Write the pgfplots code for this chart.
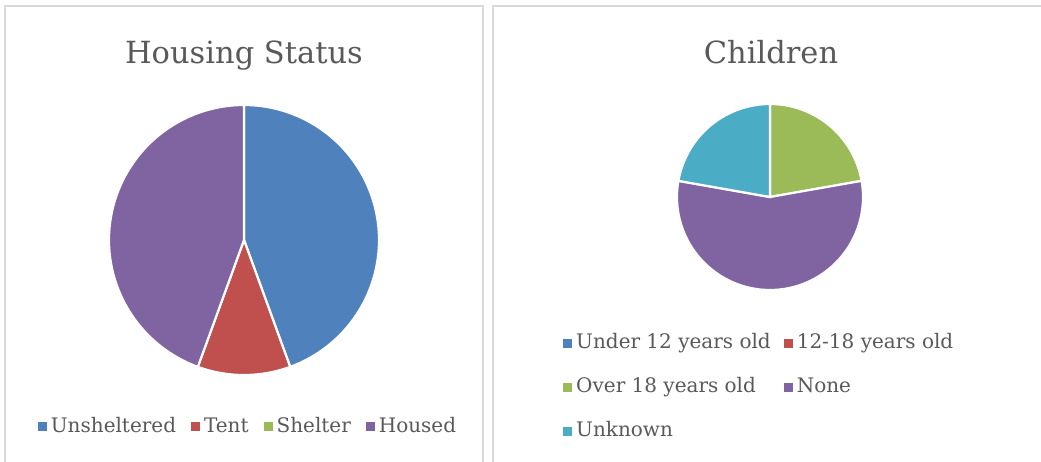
\documentclass[border=0pt]{standalone}
\usepackage{pgfplots}
\pgfplotsset{compat=1.18}
\usepackage{fontspec}
\setmainfont{DejaVu Serif}
\definecolor{cBlue}{HTML}{4F81BD}
\definecolor{cRed}{HTML}{C0504D}
\definecolor{cGreen}{HTML}{9BBB59}
\definecolor{cPurple}{HTML}{8064A2}
\definecolor{cAqua}{HTML}{4BACC6}
\definecolor{cText}{HTML}{595959}
\definecolor{cBorder}{HTML}{D9D9D9}
\pgfplotsset{
  pieaxis/.style={
    hide axis, clip=false, anchor=center,
    xmin=-1, xmax=1, ymin=-1, ymax=1,
    legend image code/.code={\fill[##1, draw=none] (0pt,-4.5pt) rectangle (9pt,4.5pt);},
  },
  slice/.style={fill=#1, draw=white, line width=2.2pt, samples=120, variable=\t},
}
\begin{document}
\begin{tikzpicture}
\path[use as bounding box] (0,0) rectangle (1041pt,-461pt);
\fill[white] (0,0) rectangle (1041pt,-461pt);
\draw[cBorder, line width=1.3pt] (5pt,-6pt) rectangle (483pt,-480pt);
\draw[cBorder, line width=1.3pt] (493pt,-6pt) rectangle (1060pt,-480pt);
\node[text=cText, font=\fontsize{30.5}{36}\selectfont, anchor=base] at (244pt,-63pt) {Housing Status};
\node[text=cText, font=\fontsize{30.5}{36}\selectfont, anchor=base] at (771pt,-63pt) {Children};

% Housing Status: Unsheltered 4, Tent 1, Shelter 0, Housed 4 (of 9)
\begin{axis}[pieaxis, at={(244pt,-240pt)}, x=135pt, y=135pt,
  legend columns=4,
  legend style={at={(0.5185,-0.1889)}, anchor=center, draw=none, fill=none,
    font=\fontsize{20}{24}\selectfont, text=cText,
    nodes={inner xsep=4pt, inner ysep=1pt},
    /tikz/every even column/.append style={column sep=11pt}},
]
\addplot[slice=cBlue, domain=90:-70] ({cos(t)},{sin(t)}) -- (axis cs:0,0) -- cycle;
\addlegendentry{Unsheltered}
\addplot[slice=cRed, domain=-70:-110] ({cos(t)},{sin(t)}) -- (axis cs:0,0) -- cycle;
\addlegendentry{Tent}
\addlegendimage{fill=cGreen}
\addlegendentry{Shelter}
\addplot[slice=cPurple, domain=-110:-270] ({cos(t)},{sin(t)}) -- (axis cs:0,0) -- cycle;
\addlegendentry{Housed}
\end{axis}

% Children: Under 12 0, 12-18 0, Over 18 2, None 5, Unknown 2 (of 9)
\begin{axis}[pieaxis, at={(770pt,-197pt)}, x=93pt, y=93pt,
  legend columns=2, legend cell align=left,
  legend style={at={(-0.6290,-0.2204)}, anchor=north west, draw=none, fill=none,
    font=\fontsize{20}{24}\selectfont, text=cText, row sep=24pt,
    nodes={inner xsep=4pt, inner ysep=1pt, text height=14pt, text depth=4pt},
    /tikz/every even column/.append style={column sep=9pt}},
]
\addlegendimage{fill=cBlue}
\addlegendentry{Under 12 years old}
\addlegendimage{fill=cRed}
\addlegendentry{12-18 years old}
\addplot[slice=cGreen, domain=90:10] ({cos(t)},{sin(t)}) -- (axis cs:0,0) -- cycle;
\addlegendentry{Over 18 years old}
\addplot[slice=cPurple, domain=10:-190] ({cos(t)},{sin(t)}) -- (axis cs:0,0) -- cycle;
\addlegendentry{None}
\addplot[slice=cAqua, domain=-190:-270] ({cos(t)},{sin(t)}) -- (axis cs:0,0) -- cycle;
\addlegendentry{Unknown}
\end{axis}
\end{tikzpicture}
\end{document}
